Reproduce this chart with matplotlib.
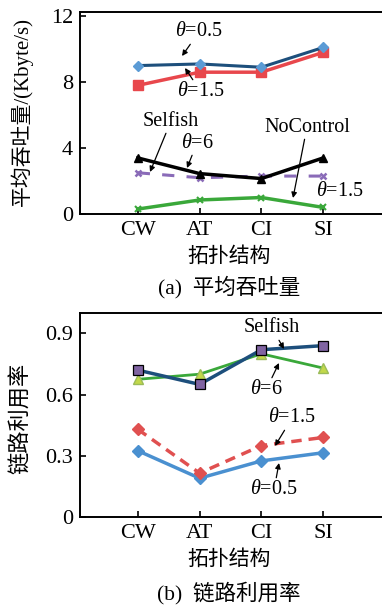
import matplotlib
matplotlib.use("Agg")
import matplotlib.pyplot as plt

plt.rcParams['font.family'] = ['Liberation Serif', 'Noto Sans CJK SC']
plt.rcParams['mathtext.fontset'] = 'custom'
plt.rcParams['mathtext.it'] = 'Liberation Serif:italic'
plt.rcParams['mathtext.rm'] = 'Liberation Serif'

categories = ["CW", "AT", "CI", "SI"]

# (a) average throughput, Kbyte/s
thr_theta05 = [9.0, 9.1, 8.9, 10.1]
thr_theta15 = [7.8, 8.6, 8.6, 9.8]
thr_theta6 = [3.4, 2.45, 2.15, 3.4]
thr_selfish = [2.5, 2.2, 2.3, 2.3]
thr_nocontrol = [0.3, 0.85, 1.0, 0.4]

# (b) link utilisation
util_selfish = [0.72, 0.65, 0.82, 0.84]
util_theta6 = [0.675, 0.70, 0.80, 0.73]
util_theta15 = [0.43, 0.215, 0.35, 0.39]
util_theta05 = [0.325, 0.19, 0.275, 0.315]

W, H = 382, 609
fig = plt.figure(figsize=(W / 100, H / 100), dpi=100)

def px_axes(left, top, right, bottom):
    return fig.add_axes([left / W, 1 - bottom / H, (right - left) / W, (bottom - top) / H])

x = list(range(1, len(categories) + 1))

def style(ax, yticks, yticklabels, ylim):
    ax.set_xlim(0.065, 5.0)
    ax.set_ylim(*ylim)
    ax.set_xticks(x)
    ax.set_xticklabels(categories)
    ax.set_yticks(yticks)
    ax.set_yticklabels(yticklabels)
    ax.tick_params(direction='in', length=4, width=1.2, labelsize=16, pad=5)
    ax.spines['right'].set_visible(False)
    for s in ['left', 'top', 'bottom']:
        ax.spines[s].set_linewidth(1.4)

def arrow(ax, text, xy_text, xy_arrow=None, fontsize=14.5):
    if xy_arrow is None:
        ax.annotate(text, xy=xy_text, xycoords='figure pixels',
                    ha='center', va='center', fontsize=fontsize)
        return
    ax.annotate(text, xy=xy_arrow, xytext=xy_text, xycoords='figure pixels',
                textcoords='figure pixels', ha='center', va='center', fontsize=fontsize,
                arrowprops=dict(arrowstyle='-|>', color='black', lw=0.9,
                                mutation_scale=8, shrinkA=0, shrinkB=0))

def fp(px, py):
    return (px, H - py)

# ---------- (a) ----------
ax1 = px_axes(80, 12, 385, 214)
ax1.plot(x, thr_nocontrol, color='#3aa83a', lw=2.5, marker='x', ms=4, mew=1.5)
ax1.plot(x, thr_selfish, color='#8a6bb8', lw=2.2, ls=(0, (4, 4)), marker='x', ms=5, mew=1.8)
ax1.plot(x, thr_theta6, color='black', lw=2.5, marker='^', ms=6)
ax1.plot(x, thr_theta15, color='#e8474c', lw=2.5, marker='s', ms=7)
ax1.plot(x, thr_theta05, color='#1d4f7c', lw=2.2, marker='D', ms=5,
         markerfacecolor='#5b9bd5', markeredgecolor='#5b9bd5')
style(ax1, [0, 4, 8, 12], ["0", "4", "8", "12"], (0, 12.25))
fig.text(22 / W, 1 - 112 / H, "平均吞吐量/(Kbyte/s)", rotation=90,
         ha='center', va='center', fontsize=15)

arrow(ax1, r"$\theta$=0.5", fp(199, 32), fp(182, 56))
arrow(ax1, r"$\theta$=1.5", fp(201, 92), fp(185, 68))
arrow(ax1, "Selfish", fp(171, 121), fp(150, 172))
arrow(ax1, r"$\theta$=6", fp(197, 143), fp(187, 168))
arrow(ax1, "NoControl", fp(307, 127), fp(293, 198))
arrow(ax1, r"$\theta$=1.5", fp(340, 191))

fig.text(229 / W, 1 - 257 / H, "拓扑结构", ha='center', va='center', fontsize=15)
fig.text(229 / W, 1 - 287 / H, "(a)  平均吞吐量", ha='center', va='center', fontsize=15.5)

# ---------- (b) ----------
ax2 = px_axes(80, 313, 385, 517)
ax2.plot(x, util_theta05, color='#4a90d0', lw=2.5, marker='D', ms=6)
ax2.plot(x, util_theta15, color='#e05050', lw=2.5, ls=(0, (3, 2)), marker='D', ms=6)
ax2.plot(x, util_theta6, color='#3aa83a', lw=2.0, marker='^', ms=7,
         markerfacecolor='#c2d84a', markeredgecolor='#9bbb59')
ax2.plot(x, util_selfish, color='#1d4f7c', lw=2.5, marker='s', ms=7,
         markerfacecolor='#8064a2', markeredgecolor='black', markeredgewidth=0.9)
style(ax2, [0, 0.3, 0.6, 0.9], ["0", "0.3", "0.6", "0.9"], (0, 1.0))
fig.text(22 / W, 1 - 418 / H, "链路利用率", rotation=90,
         ha='center', va='center', fontsize=16)

arrow(ax2, "Selfish", fp(272, 328), fp(284, 349))
arrow(ax2, r"$\theta$=6", fp(266, 390), fp(279, 363))
arrow(ax2, r"$\theta$=1.5", fp(292, 418), fp(275, 446))
arrow(ax2, r"$\theta$=0.5", fp(274, 490), fp(279, 463))

fig.text(229 / W, 1 - 560 / H, "拓扑结构", ha='center', va='center', fontsize=15)
fig.text(229 / W, 1 - 593 / H, "(b)  链路利用率", ha='center', va='center', fontsize=15.5)

fig.savefig("out.png", dpi=100)
